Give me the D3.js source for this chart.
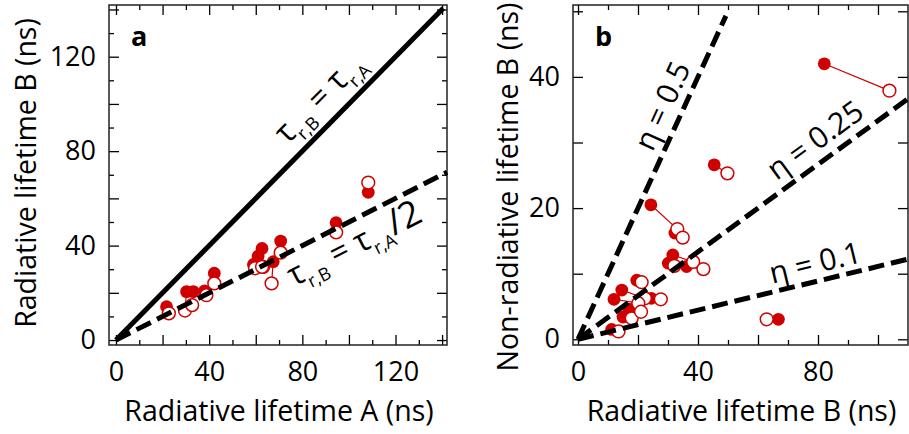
<!DOCTYPE html>
<html><head><meta charset="utf-8">
<script src="https://cdn.jsdelivr.net/npm/d3@7"></script>
<style>
body{margin:0;background:#fff}
svg{display:block}
text{font-family:"Open Sans","Noto Sans",sans-serif;fill:#000}
</style>
</head><body>
<svg id="c" width="909" height="434"></svg>
<script>
// ---------- Panel a data: radiative lifetime A vs radiative lifetime B ----------
const aFilledX = [21.7, 30.3, 33.2, 38.0, 42.2, 59.0, 61.0, 62.7, 67.5, 70.7, 94.5, 108.3];
const aFilledY = [14.1, 20.5, 20.5, 20.8, 28.3, 32.0, 35.5, 38.8, 33.2, 41.9, 49.7, 62.6];
const aOpenX   = [22.7, 29.6, 32.7, 38.8, 42.2, 59.7, 63.2, 62.7, 66.8, 70.7, 94.5, 108.3];
const aOpenY   = [11.3, 12.5, 14.8, 19.0, 24.0, 30.4, 31.0, 31.0, 24.0, 37.0, 45.6, 66.7];
const aXTicks = [0, 40, 80, 120];
const aYTicks = [0, 40, 80, 120];

// ---------- Panel b data: radiative lifetime B vs non-radiative lifetime B ----------
const bFilledX = [82.1, 45.4, 24.3, 32.3, 31.6, 30.1, 36.2, 19.6, 14.6, 12.0, 24.4, 15.0, 11.2, 66.8, 17.0];
const bFilledY = [42.0, 26.6, 20.5, 16.2, 12.85, 11.6, 11.1, 9.0, 7.5, 6.1, 6.25, 3.4, 1.5, 3.05, 4.6];
const bOpenX   = [103.8, 49.8, 33.1, 34.9, 38.4, 32.1, 41.8, 21.2, 22.3, 20.1, 27.6, 17.9, 13.5, 62.9, 21.0];
const bOpenY   = [37.9, 25.3, 16.8, 15.5, 11.8, 11.2, 10.7, 8.7, 6.25, 5.5, 6.1, 3.2, 1.2, 3.05, 4.2];
const bXTicks = [0, 40, 80];
const bYTicks = [0, 20, 40];
const etaValues = [0.5, 0.25, 0.1];
const etaLabels = ["η = 0.5", "η = 0.25", "η = 0.1"];

const RED = "#d10000";
const svg = d3.select("#c");

function makePanel(o) {
  const g = svg.append("g");
  const x = d3.scaleLinear().domain(o.xd).range([o.L, o.R]);
  const y = d3.scaleLinear().domain(o.yd).range([o.B, o.T]);

  const tickSets = [
    {vals: o.xMajor, len: 10, axis: "x"}, {vals: o.xMinor, len: 5, axis: "x"},
    {vals: o.yMajor, len: 10, axis: "y"}, {vals: o.yMinor, len: 5, axis: "y"}
  ];
  tickSets.forEach(t => {
    if (!t.vals.length) return;
    if (t.axis === "x") {
      g.append("g").attr("transform", `translate(0,${o.B})`)
        .call(d3.axisBottom(x).tickValues(t.vals).tickSize(-t.len).tickFormat(""));
      g.append("g").attr("transform", `translate(0,${o.T})`)
        .call(d3.axisTop(x).tickValues(t.vals).tickSize(-t.len).tickFormat(""));
    } else {
      g.append("g").attr("transform", `translate(${o.L},0)`)
        .call(d3.axisLeft(y).tickValues(t.vals).tickSize(-t.len).tickFormat(""));
      g.append("g").attr("transform", `translate(${o.R},0)`)
        .call(d3.axisRight(y).tickValues(t.vals).tickSize(-t.len).tickFormat(""));
    }
  });
  // labels
  const xl = g.append("g").attr("transform", `translate(0,${o.B})`)
    .call(d3.axisBottom(x).tickValues(o.xLab).tickSize(0).tickPadding(17).tickFormat(d3.format("d")));
  const yl = g.append("g").attr("transform", `translate(${o.L},0)`)
    .call(d3.axisLeft(y).tickValues(o.yLab).tickSize(0).tickPadding(13).tickFormat(d3.format("d")));
  g.selectAll(".domain").remove();
  g.selectAll(".tick line").attr("stroke", "#000").attr("stroke-width", 1.3);
  [xl, yl].forEach(s => s.selectAll("text").attr("font-size", 27).style("font-family", '"Open Sans",sans-serif').attr("fill", "#000"));

  // frame
  g.append("rect").attr("x", o.L).attr("y", o.T).attr("width", o.R - o.L).attr("height", o.B - o.T)
    .attr("fill", "none").attr("stroke", "#222").attr("stroke-width", 1.5);

  // titles
  g.append("text").attr("x", (o.L + o.R) / 2 + 1).attr("y", 421).attr("text-anchor", "middle")
    .attr("font-size", 28.5).text(o.xTitle);
  g.append("text").attr("transform", `translate(${o.yTitleX},${o.yTitleY}) rotate(-90)`)
    .attr("text-anchor", "middle").attr("font-size", 28.5).text(o.yTitle);
  g.append("text").attr("x", o.L + 22).attr("y", 46).attr("font-size", 27).attr("font-weight", "bold").text(o.tag);

  // points: connectors, filled, open
  const idx = d3.range(o.fx.length);
  const pg = g.append("g");
  pg.selectAll("line.c").data(idx).join("line").attr("class", "c")
    .attr("x1", i => x(o.fx[i])).attr("y1", i => y(o.fy[i]))
    .attr("x2", i => x(o.ox[i])).attr("y2", i => y(o.oy[i]))
    .attr("stroke", RED).attr("stroke-width", 1.2);
  pg.selectAll("circle.f").data(idx).join("circle").attr("class", "f")
    .attr("cx", i => x(o.fx[i])).attr("cy", i => y(o.fy[i])).attr("r", 6.4)
    .attr("fill", RED);
  pg.selectAll("circle.o").data(idx).join("circle").attr("class", "o")
    .attr("cx", i => x(o.ox[i])).attr("cy", i => y(o.oy[i])).attr("r", 6.4)
    .attr("fill", "#fff").attr("stroke", RED).attr("stroke-width", 1.5);
  return {g, x, y};
}

// label along a line through origin with slope s (data units), placed at data x = xm
function lineLabel(p, s, xm, off, build, fs) {
  const px = p.x(xm), py = p.y(s * xm);
  const dx = p.x(1) - p.x(0), dy = p.y(s) - p.y(0);
  const len = Math.hypot(dx, dy);
  const ang = Math.atan2(dy, dx) * 180 / Math.PI;
  const nx = dy / len, ny = -dx / len;
  const t = p.g.append("text")
    .attr("transform", `translate(${px + nx * off},${py + ny * off}) rotate(${ang})`)
    .attr("text-anchor", "middle").attr("font-size", fs);
  build(t);
}

// ---------- Panel a ----------
const pa = makePanel({
  L: 109, R: 447, T: 5, B: 345,
  xd: [-3.0, 142.1], yd: [-2.1, 141.9],
  xMajor: d3.range(0, 141, 20), xMinor: d3.range(10, 141, 20),
  yMajor: d3.range(0, 141, 20), yMinor: d3.range(10, 141, 20),
  xLab: aXTicks, yLab: aYTicks,
  xTitle: "Radiative lifetime A (ns)", yTitle: "Radiative lifetime B (ns)",
  yTitleX: 36, yTitleY: 173, tag: "a",
  fx: aFilledX, fy: aFilledY, ox: aOpenX, oy: aOpenY
});
pa.g.append("line").attr("x1", pa.x(0)).attr("y1", pa.y(0)).attr("x2", pa.x(140.5)).attr("y2", pa.y(140.5))
  .attr("stroke", "#000").attr("stroke-width", 5);
pa.g.append("line").attr("x1", pa.x(0)).attr("y1", pa.y(0)).attr("x2", pa.x(142.1)).attr("y2", pa.y(142.1 / 2))
  .attr("stroke", "#000").attr("stroke-width", 5).attr("stroke-dasharray", "16,7");

function tauEq(t, tail) {
  t.append("tspan").text("τ");
  t.append("tspan").attr("font-size", 18).attr("dy", 9).text("r,B");
  t.append("tspan").attr("dy", -9).text(" = τ");
  t.append("tspan").attr("font-size", 18).attr("dy", 9).text("r,A");
  if (tail) t.append("tspan").attr("dy", -9).attr("font-size", 36).text(tail);
}
lineLabel(pa, 1, 95, 15, t => tauEq(t, ""), 32);
lineLabel(pa, 0.5, 98, -33, t => tauEq(t, "/2"), 32);

// ---------- Panel b ----------
const pb = makePanel({
  L: 573, R: 908, T: 5, B: 345,
  xd: [-1.67, 110], yd: [-0.87, 50.96],
  xMajor: d3.range(0, 110, 20), xMinor: d3.range(10, 110, 20),
  yMajor: d3.range(0, 51, 10), yMinor: [],
  xLab: bXTicks, yLab: bYTicks,
  xTitle: "Radiative lifetime B (ns)", yTitle: "Non-radiative lifetime B (ns)",
  yTitleX: 518, yTitleY: 187, tag: "b",
  fx: bFilledX, fy: bFilledY, ox: bOpenX, oy: bOpenY
});
const etaEnd = [49.3, 110, 110];
const etaMid = [34.3, 83.2, 80.5];
const etaOff = [10, 11, 8];
etaValues.forEach((e, i) => {
  const s = e / (1 - e);
  pb.g.append("line").attr("x1", pb.x(0)).attr("y1", pb.y(0))
    .attr("x2", pb.x(etaEnd[i])).attr("y2", pb.y(s * etaEnd[i]))
    .attr("stroke", "#000").attr("stroke-width", 5).attr("stroke-dasharray", "16,7");
  lineLabel(pb, s, etaMid[i], etaOff[i], t => t.text(etaLabels[i]), 30);
});
</script>
</body></html>
